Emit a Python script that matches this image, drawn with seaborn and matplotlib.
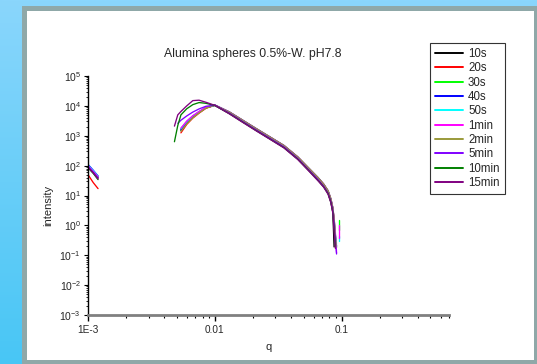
import numpy as np
import pandas as pd
import matplotlib
matplotlib.use("Agg")
import matplotlib.pyplot as plt
import seaborn as sns
from matplotlib.colors import LinearSegmentedColormap
from matplotlib.patches import Rectangle
from matplotlib.ticker import LogLocator, NullFormatter

nan = np.nan

# scattering vector grids (shared by all runs)
q_low = [0.00100, 0.00110, 0.00120]
q_main = [0.0048, 0.0051, 0.0054, 0.0060, 0.0067, 0.0075, 0.0085, 0.0100,
          0.0130, 0.0160, 0.0210, 0.0270, 0.0350, 0.0450, 0.0550, 0.0650,
          0.0720, 0.0780, 0.0820, 0.0850, 0.0870, 0.0890, 0.0910]
q_tail = [0.0950, 0.0950]

times = ['10s', '20s', '30s', '40s', '50s', '1min', '2min', '5min', '10min', '15min']
colors = ['#000000', '#ff0000', '#00ff00', '#0000ff', '#00ffff',
          '#ff00ff', '#9a9a3a', '#8000ff', '#008000', '#800080']

low_10s = [95, 62, 40]
low_20s = [50, 27, 17]
low_30s = [100, 65, 43]
low_40s = [110, 70, 45]
low_50s = [105, 68, 44]
low_1min = [100, 64, 42]
low_2min = [90, 58, 38]
low_5min = [95, 60, 39]
low_10min = [85, 55, 34]
low_15min = [88, 57, 36]

main_10s = [nan, nan, 1500, 2700, 4300, 6100, 8600, 10300, 5600, 3200, 1550, 800, 410,
            168, 70, 33, 20, 12, 6.2, 2.8, 0.19, nan, nan]
main_20s = [nan, nan, 1250, 2400, 3900, 5700, 8300, 10600, 6200, 3600, 1750, 920, 470,
            195, 81, 39, 24, 14, 7.6, 3.8, 1.5, 0.3, nan]
main_30s = [nan, nan, 1700, 2900, 4500, 6300, 8800, 10500, 5950, 3420, 1660, 865, 440,
            182, 76, 36, 22, 13, 7.0, 3.5, 1.4, 0.35, nan]
main_40s = [nan, nan, 1600, 2800, 4400, 6200, 8700, 10700, 6300, 3650, 1780, 930, 475,
            196, 82, 40, 24, 14.5, 7.8, 3.9, 1.6, 0.5, 0.2]
main_50s = [nan, nan, 1750, 3000, 4600, 6400, 8900, 10500, 5800, 3350, 1620, 845, 430,
            177, 73, 35, 21, 12.5, 6.8, 3.3, 1.3, 0.4, 0.25]
main_1min = [nan, nan, 1800, 3100, 4700, 6500, 9000, 10600, 6150, 3550, 1720, 900, 460,
             190, 79, 38, 23, 14, 7.5, 3.8, 1.7, 0.6, 0.12]
main_2min = [nan, nan, 1400, 2500, 4000, 5800, 8400, 10600, 6250, 3620, 1770, 925, 472,
             195, 82, 40, 24, 14.5, 7.9, 4.0, 1.8, 0.45, 0.18]
main_5min = [nan, 2600, 3300, 4600, 6200, 7900, 9700, 10500, 5750, 3300, 1600, 835, 425,
             174, 72, 34, 20.5, 12, 6.5, 3.2, 1.2, 0.3, 0.11]
main_10min = [630, 2200, 5000, 8000, 11000, 12900, 12200, 10300, 5500, 3150, 1520, 790, 400,
              165, 68, 32, 19.5, 11.5, 6.0, 2.8, 0.8, 0.2, nan]
main_15min = [2100, 5000, 6500, 10000, 15000, 15500, 13200, 10400, 5400, 3080, 1490, 775, 392,
              160, 66, 31, 19, 11, 5.8, 2.6, 0.6, 0.17, nan]

tail_30s = [1.5, 0.7]
tail_50s = [0.45, 0.3]
tail_1min = [1.0, 0.38]

low = [low_10s, low_20s, low_30s, low_40s, low_50s, low_1min, low_2min, low_5min, low_10min, low_15min]
main = [main_10s, main_20s, main_30s, main_40s, main_50s, main_1min, main_2min, main_5min,
        main_10min, main_15min]
tails = {'30s': tail_30s, '50s': tail_50s, '1min': tail_1min}

rows = []
for t, lo, mn in zip(times, low, main):
    for q, v in zip(q_low, lo):
        rows.append((t, 'low', q, v))
    for q, v in zip(q_main, mn):
        rows.append((t, 'main', q, v))
    if t in tails:
        for q, v in zip(q_tail, tails[t]):
            rows.append((t, 'tail', q, v))
df = pd.DataFrame(rows, columns=['time', 'seg', 'q', 'intensity']).dropna()

sns.set_style('ticks')
plt.rcParams['font.family'] = ['Liberation Sans', 'DejaVu Sans']

fig = plt.figure(figsize=(5.37, 3.64), dpi=100)

# blue page background + grey framed white panel
bg = fig.add_axes([0, 0, 1, 1], zorder=-10)
grad = np.linspace(0, 1, 256).reshape(-1, 1)
cmap_bg = LinearSegmentedColormap.from_list('bg', ['#8ad6fc', '#48c6f5'])
bg.imshow(grad, aspect='auto', extent=[0, 1, 0, 1], cmap=cmap_bg, origin='upper')
bg.axis('off')
fig.add_artist(Rectangle((23.5 / 537, 1 - 361.5 / 364), (536 - 23.5) / 537, (361.5 - 7.5) / 364,
                         transform=fig.transFigure, facecolor='white', edgecolor='#8fa8a8',
                         lw=3.6, zorder=-5))

ax = fig.add_axes([88 / 537, 1 - 315 / 364, (449 - 88) / 537, (315 - 76) / 364])
sns.lineplot(data=df, x='q', y='intensity', hue='time', units='seg', estimator=None,
             sort=False, hue_order=times, palette=colors, lw=0.95, ax=ax)

ax.set_xscale('log')
ax.set_yscale('log')
ax.set_xlim(1e-3, 0.70)
ax.set_ylim(1e-3, 1e5)

ax.set_xticks([1e-3, 1e-2, 1e-1])
ax.set_xticklabels(['1E-3', '0.01', '0.1'])
ax.xaxis.set_minor_locator(LogLocator(base=10, subs=np.arange(2, 10), numticks=100))
ax.xaxis.set_minor_formatter(NullFormatter())
ax.yaxis.set_major_locator(LogLocator(base=10, numticks=20))
ax.yaxis.set_minor_locator(LogLocator(base=10, subs=np.arange(2, 10), numticks=100))
ax.yaxis.set_minor_formatter(NullFormatter())

ax.tick_params(axis='x', which='major', length=4, width=1, labelsize=7.2, pad=3, color='black')
ax.tick_params(axis='x', which='minor', length=2, width=0.8, color='black')
ax.tick_params(axis='y', which='major', length=3, width=0.8, labelsize=7.5, pad=2, color='black')
ax.tick_params(axis='y', which='minor', length=1.5, width=0.6, color='black')

for s in ['top', 'right']:
    ax.spines[s].set_visible(False)
ax.spines['left'].set_color('black')
ax.spines['left'].set_linewidth(1.0)
ax.spines['bottom'].set_color('#808080')
ax.spines['bottom'].set_linewidth(2.0)

ax.set_xlabel('q', fontsize=8)
ax.set_ylabel('intensity', fontsize=8)
ax.xaxis.set_label_coords(0.5, -0.115)
ax.yaxis.set_label_coords(-0.095, 0.46)

fig.text(253 / 537, 1 - 54 / 364, 'Alumina spheres 0.5%-W. pH7.8', ha='center', va='center',
         fontsize=8.8)

handles, labels = ax.get_legend_handles_labels()
leg = ax.legend(handles, labels, loc='upper left', bbox_to_anchor=(430 / 537, 1 - 43 / 364),
                bbox_transform=fig.transFigure, fontsize=8.3, frameon=True, fancybox=False,
                edgecolor='#333333', framealpha=1, borderaxespad=0, borderpad=0.45,
                labelspacing=0.2, handlelength=2.4, handletextpad=0.45)
leg.get_frame().set_linewidth(0.8)
for h in leg.get_lines():
    h.set_linewidth(1.4)

fig.savefig('out.png', dpi=100)
